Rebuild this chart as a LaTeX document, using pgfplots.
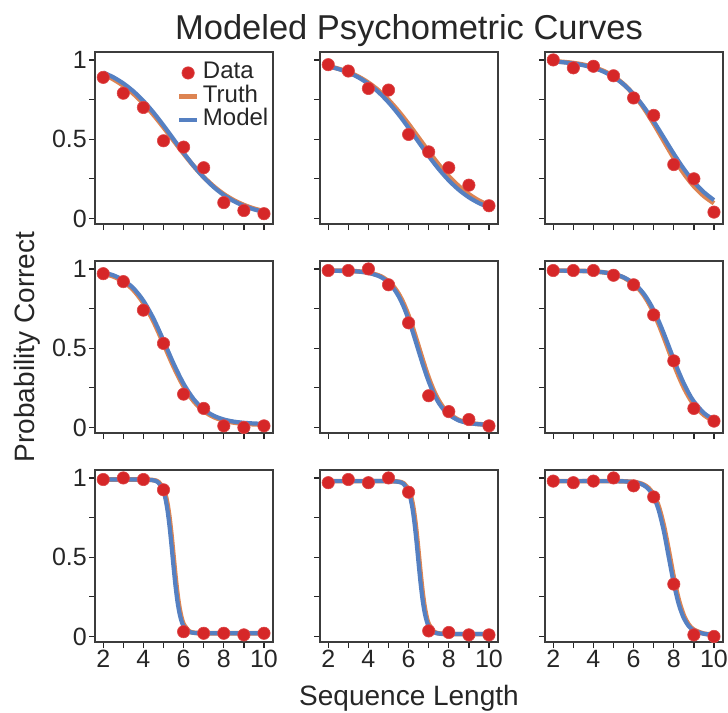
\documentclass[border=0pt]{standalone}
\usepackage{pgfplots}
\pgfplotsset{compat=1.18}
\usepackage{fontspec}
\setmainfont{Liberation Sans}
\definecolor{dataRed}{HTML}{D62728}
\definecolor{truthOr}{HTML}{DD8452}
\definecolor{modelBl}{HTML}{5580C2}
\definecolor{txt}{HTML}{262626}
\pgfplotsset{
  panel/.style={
    at={#1}, anchor=north west, scale only axis,
    width=178bp, height=172bp,
    xmin=1.59, xmax=10.45, ymin=-0.035, ymax=1.05,
    xtick={2,3,4,5,6,7,8,9,10}, ytick={0,0.25,0.5,0.75,1},
    xticklabels={}, yticklabels={},
    tick align=outside, xtick pos=left, ytick pos=left,
    major tick length=6bp,
    every tick/.style={line width=1.3bp, color=txt},
    axis line style={line width=1.6bp, color=txt!90},
    ticklabel style={font=\fontsize{25bp}{30bp}\selectfont, color=txt, inner sep=2bp},
    /pgf/number format/assume math mode=true,
    clip=false,
  },
  leftcol/.style={yticklabels={0,,0.5,,1}},
  bottomrow/.style={xticklabels={2,,4,,6,,8,,10}},
  linelegend/.style={legend image code/.code={\draw[##1] (0bp,0bp) -- (18bp,0bp);}},
  dotlegend/.style={legend image code/.code={\draw[##1] plot coordinates {(9bp,0bp)};}},
  truth/.style={color=truthOr, line width=4.6bp, smooth, no marks},
  model/.style={color=modelBl, line width=4.2bp, smooth, no marks},
  data/.style={only marks, mark=*, mark size=6.2bp, color=dataRed, mark options={draw=dataRed!85!white, fill=dataRed, line width=0.6bp}},
}
\begin{document}
\begin{tikzpicture}
\useasboundingbox (0,0) rectangle (728bp,-713bp);
% title and axis labels
\node[anchor=base, color=txt, font=\fontsize{34.5bp}{40bp}\selectfont] at (409bp,-39bp) {Modeled Psychometric Curves};
\node[anchor=base, color=txt, font=\fontsize{28bp}{32bp}\selectfont] at (409bp,-705bp) {Sequence Length};
\node[anchor=base, rotate=90, color=txt, font=\fontsize{28bp}{32bp}\selectfont] at (34bp,-347bp) {Probability Correct};

% ---------- row 1 ----------
\begin{axis}[panel={(95bp,-52bp)}, leftcol,
  legend style={at={(1,1)}, anchor=north east, xshift=-4bp, yshift=-9bp, draw=none, fill=none,
    inner sep=0pt, row sep=0pt, column sep=3bp,
    font=\fontsize{24bp}{28bp}\selectfont, text=txt,
    nodes={inner sep=0.5bp, text height=17bp, text depth=5.5bp}},
  legend cell align=left]
\addlegendimage{data, dotlegend}
\addlegendentry{Data}
\addlegendimage{truth, linelegend}
\addlegendentry{Truth}
\addlegendimage{model, linelegend}
\addlegendentry{Model}
\addplot[truth, forget plot] coordinates {(2,0.9098)(2.5,0.8783)(3,0.8377)(3.5,0.7869)(4,0.7254)(4.5,0.6540)(5,0.5748)(5.5,0.4916)(6,0.4089)(6.5,0.3310)(7,0.2614)(7.5,0.2021)(8,0.1533)(8.5,0.1147)(9,0.0848)(9.5,0.0622)(10,0.0453)};
\addplot[model, forget plot] coordinates {(2,0.9206)(2.5,0.8909)(3,0.8520)(3.5,0.8022)(4,0.7408)(4.5,0.6682)(5,0.5866)(5.5,0.5)(6,0.4134)(6.5,0.3318)(7,0.2592)(7.5,0.1978)(8,0.1480)(8.5,0.1091)(9,0.0794)(9.5,0.0573)(10,0.0411)};
\addplot[data, forget plot] coordinates {(2,0.89)(3,0.79)(4,0.70)(5,0.49)(6,0.45)(7,0.32)(8,0.10)(9,0.05)(10,0.03)};
\end{axis}

\begin{axis}[panel={(320bp,-52bp)}]
\addplot[truth] coordinates {(2,0.9603)(2.5,0.9445)(3,0.9231)(3.5,0.8943)(4,0.8563)(4.5,0.8077)(5,0.7474)(5.5,0.6759)(6,0.5951)(6.5,0.5087)(7,0.4219)(7.5,0.3396)(8,0.2660)(8.5,0.2034)(9,0.1525)(9.5,0.1125)(10,0.0820)};
\addplot[model] coordinates {(2,0.9596)(2.5,0.9431)(3,0.9204)(3.5,0.8898)(4,0.8492)(4.5,0.7971)(5,0.7326)(5.5,0.6566)(6,0.5715)(6.5,0.4820)(7,0.3936)(7.5,0.3117)(8,0.2401)(8.5,0.1806)(9,0.1333)(9.5,0.0969)(10,0.0697)};
\addplot[data] coordinates {(2,0.97)(3,0.93)(4,0.82)(5,0.81)(6,0.53)(7,0.42)(8,0.32)(9,0.21)(10,0.08)};
\end{axis}

\begin{axis}[panel={(545bp,-52bp)}]
\addplot[truth] coordinates {(2,0.9918)(2.5,0.9873)(3,0.9805)(3.5,0.9700)(4,0.9542)(4.5,0.9306)(5,0.8962)(5.5,0.8476)(6,0.7817)(6.5,0.6977)(7,0.5977)(7.5,0.4890)(8,0.3813)(8.5,0.2841)(9,0.2036)(9.5,0.1414)(10,0.0959)};
\addplot[model] coordinates {(2,0.9901)(2.5,0.9851)(3,0.9776)(3.5,0.9665)(4,0.9501)(4.5,0.9263)(5,0.8925)(5.5,0.8457)(6,0.7836)(6.5,0.7050)(7,0.6122)(7.5,0.5104)(8,0.4077)(8.5,0.3125)(9,0.2309)(9.5,0.1654)(10,0.1157)};
\addplot[data] coordinates {(2,1.0)(3,0.95)(4,0.96)(5,0.90)(6,0.76)(7,0.65)(8,0.34)(9,0.25)(10,0.04)};
\end{axis}

% ---------- row 2 ----------
\begin{axis}[panel={(95bp,-261bp)}, leftcol]
\addplot[truth] coordinates {(2,0.9713)(2.5,0.9526)(3,0.9204)(3.5,0.8670)(4,0.7845)(4.5,0.6689)(5,0.5285)(5.5,0.3840)(6,0.2590)(6.5,0.1659)(7,0.1040)(7.5,0.0659)(8,0.0436)(8.5,0.0309)(9,0.0238)(9.5,0.0199)(10,0.0177)};
\addplot[model] coordinates {(2,0.9776)(2.5,0.9600)(3,0.9294)(3.5,0.8786)(4,0.7992)(4.5,0.6869)(5,0.5481)(5.5,0.4030)(6,0.2752)(6.5,0.1787)(7,0.1140)(7.5,0.0739)(8,0.0503)(8.5,0.0369)(9,0.0293)(9.5,0.0252)(10,0.0228)};
\addplot[data] coordinates {(2,0.97)(3,0.92)(4,0.74)(5,0.53)(6,0.21)(7,0.12)(8,0.01)(9,0.0)(10,0.01)};
\end{axis}

\begin{axis}[panel={(320bp,-261bp)}]
\addplot[truth] coordinates {(2,0.9895)(2.5,0.9889)(3,0.9875)(3.5,0.9843)(4,0.9767)(4.5,0.9595)(4.75,0.9441)(5,0.9216)(5.25,0.8891)(5.5,0.8437)(5.75,0.7827)(6,0.7050)(6.25,0.6124)(6.5,0.5108)(6.75,0.4084)(7,0.3139)(7.25,0.2337)(7.5,0.1700)(7.75,0.1222)(8,0.0879)(8.5,0.0475)(9,0.0292)(9.5,0.0211)(10,0.0176)};
\addplot[model] coordinates {(2,0.9895)(2.5,0.9888)(3,0.9872)(3.5,0.9836)(4,0.9751)(4.5,0.9558)(4.75,0.9387)(5,0.9136)(5.25,0.8778)(5.5,0.8282)(5.75,0.7626)(6,0.6804)(6.25,0.5846)(6.5,0.4818)(6.75,0.3808)(7,0.2899)(7.25,0.2141)(7.5,0.1551)(7.75,0.1114)(8,0.0802)(8.5,0.0440)(9,0.0276)(9.5,0.0204)(10,0.0173)};
\addplot[data] coordinates {(2,0.99)(3,0.99)(4,1.0)(5,0.90)(6,0.66)(7,0.20)(8,0.10)(9,0.05)(10,0.01)};
\end{axis}

\begin{axis}[panel={(545bp,-261bp)}]
\addplot[truth] coordinates {(2,0.9896)(2.5,0.9893)(3,0.9885)(3.5,0.9871)(4,0.9842)(4.5,0.9785)(5,0.9673)(5.5,0.9458)(6,0.9057)(6.25,0.8750)(6.5,0.8350)(6.75,0.7844)(7,0.7226)(7.25,0.6502)(7.5,0.5697)(7.75,0.4848)(8,0.4005)(8.25,0.3216)(8.5,0.2516)(8.75,0.1925)(9,0.1445)(9.5,0.0782)(10,0.0408)};
\addplot[model] coordinates {(2,0.9896)(2.5,0.9892)(3,0.9885)(3.5,0.9870)(4,0.9842)(4.5,0.9786)(5,0.9679)(5.5,0.9475)(6,0.9099)(6.25,0.8813)(6.5,0.8441)(6.75,0.7969)(7,0.7390)(7.25,0.6707)(7.5,0.5939)(7.75,0.5117)(8,0.4286)(8.25,0.3491)(8.5,0.2771)(8.75,0.2149)(9,0.1636)(9.5,0.0906)(10,0.0483)};
\addplot[data] coordinates {(2,0.99)(3,0.99)(4,0.99)(5,0.96)(6,0.90)(7,0.71)(8,0.42)(9,0.12)(10,0.04)};
\end{axis}

% ---------- row 3 ----------
\begin{axis}[panel={(95bp,-470bp)}, leftcol, bottomrow]
\addplot[truth] coordinates {(2,0.9900)(3,0.9900)(4,0.9898)(4.5,0.9861)(4.75,0.9746)(5,0.9317)(5.1,0.8932)(5.2,0.8337)(5.3,0.7478)(5.4,0.6351)(5.5,0.5050)(5.6,0.3749)(5.7,0.2622)(5.8,0.1763)(5.9,0.1168)(6,0.0783)(6.25,0.0354)(6.5,0.0239)(7,0.0203)(8,0.0200)(9,0.0200)(10,0.0200)};
\addplot[model] coordinates {(2,0.9900)(3,0.9900)(4,0.9897)(4.5,0.9848)(4.75,0.9698)(5,0.9147)(5.1,0.8665)(5.2,0.7943)(5.3,0.6944)(5.4,0.5713)(5.5,0.4387)(5.6,0.3156)(5.7,0.2158)(5.8,0.1435)(5.9,0.0953)(6,0.0649)(6.25,0.0318)(6.5,0.0230)(7,0.0202)(8,0.0200)(9,0.0200)(10,0.0200)};
\addplot[data] coordinates {(2,0.99)(3,1.0)(4,0.99)(5,0.925)(6,0.03)(7,0.02)(8,0.02)(9,0.01)(10,0.02)};
\end{axis}

\begin{axis}[panel={(320bp,-470bp)}, bottomrow]
\addplot[truth] coordinates {(2,0.9800)(3,0.9800)(4,0.9800)(5,0.9798)(5.5,0.9765)(5.75,0.9662)(6,0.9277)(6.1,0.8929)(6.2,0.8384)(6.3,0.7583)(6.4,0.6512)(6.5,0.5240)(6.6,0.3930)(6.7,0.2764)(6.8,0.1854)(6.9,0.1212)(7,0.0793)(7.25,0.0321)(7.5,0.0194)(8,0.0153)(9,0.0150)(10,0.0150)};
\addplot[model] coordinates {(2,0.9800)(3,0.9800)(4,0.9800)(5,0.9797)(5.5,0.9754)(5.75,0.9620)(6,0.9123)(6.1,0.8685)(6.2,0.8018)(6.3,0.7080)(6.4,0.5893)(6.5,0.4578)(6.6,0.3320)(6.7,0.2274)(6.8,0.1501)(6.9,0.0979)(7,0.0646)(7.25,0.0280)(7.5,0.0183)(8,0.0152)(9,0.0150)(10,0.0150)};
\addplot[data] coordinates {(2,0.97)(3,0.99)(4,0.97)(5,1.0)(6,0.91)(7,0.035)(8,0.025)(9,0.01)(10,0.01)};
\end{axis}

\begin{axis}[panel={(545bp,-470bp)}, bottomrow]
\addplot[truth] coordinates {(2,0.9800)(3,0.9800)(4,0.9800)(5,0.9797)(5.5,0.9787)(6,0.9746)(6.25,0.9691)(6.5,0.9580)(6.75,0.9361)(7,0.8945)(7.25,0.8203)(7.5,0.7020)(7.75,0.5432)(8,0.3733)(8.25,0.2302)(8.5,0.1321)(8.75,0.0740)(9,0.0425)(9.5,0.0180)(10,0.0119)};
\addplot[model] coordinates {(2,0.9800)(3,0.9800)(4,0.9800)(5,0.9796)(5.5,0.9785)(6,0.9736)(6.25,0.9671)(6.5,0.9540)(6.75,0.9284)(7,0.8802)(7.25,0.7962)(7.5,0.6669)(7.75,0.4999)(8,0.3353)(8.25,0.2024)(8.5,0.1150)(8.75,0.0645)(9,0.0375)(9.5,0.0168)(10,0.0116)};
\addplot[data] coordinates {(2,0.98)(3,0.97)(4,0.98)(5,1.0)(6,0.95)(7,0.88)(8,0.33)(9,0.01)(10,0.0)};
\end{axis}
\end{tikzpicture}
\end{document}
